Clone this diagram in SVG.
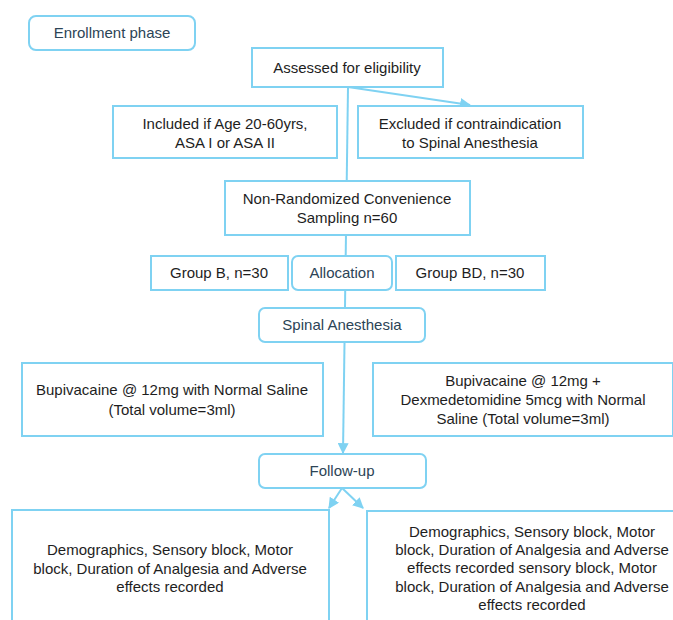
<svg xmlns="http://www.w3.org/2000/svg" width="673" height="620" viewBox="0 0 673 620">
<style>
.box{fill:#fff;stroke:#7fd2f2;stroke-width:2}
.rbox{fill:#fff;stroke:#7fd2f2;stroke-width:2}
.t{font-family:"Liberation Sans",Arial,sans-serif;font-size:15px;fill:#1e1e1e;text-anchor:middle}
.rt{font-family:"Liberation Sans",Arial,sans-serif;font-size:15px;fill:#2c4456;text-anchor:middle}
.c{stroke:#7fd2f2;stroke-width:2;fill:none;marker-end:url(#ah)}
</style>
<defs>
<marker id="ah" viewBox="0 0 10 10" refX="9" refY="5" markerWidth="5.5" markerHeight="5.5" orient="auto" markerUnits="strokeWidth">
<path d="M0,0 L10,5 L0,10 z" fill="#7fd2f2"/>
</marker>
</defs>
<g id="connectors">
<path class="c" d="M348,87 L343,453"/>
<path class="c" d="M348,87 L470,105"/>
<path class="c" d="M342,488 L329,508"/>
<path class="c" d="M342,488 L363,508"/>
</g>
<g id="enrollment">
<rect class="rbox" x="29" y="16" width="166" height="34" rx="7"/>
<text class="rt" x="112" y="38">Enrollment  phase</text>
</g>
<g id="assessed">
<rect class="box" x="252" y="48" width="191" height="39"/>
<text class="t" x="347" y="73">Assessed for eligibility</text>
</g>
<g id="included">
<rect class="box" x="113" y="106" width="224" height="52"/>
<text class="t" x="225" y="129">Included  if Age 20-60yrs,</text>
<text class="t" x="225" y="148">ASA I or ASA II</text>
</g>
<g id="excluded">
<rect class="box" x="358" y="106" width="225" height="52"/>
<text class="t" x="470" y="129">Excluded  if contraindication</text>
<text class="t" x="470" y="148">to Spinal  Anesthesia</text>
</g>
<g id="nonrandom">
<rect class="box" x="225" y="181" width="245" height="54"/>
<text class="t" x="347" y="204">Non-Randomized  Convenience</text>
<text class="t" x="347" y="223">Sampling  n=60</text>
</g>
<g id="groupB">
<rect class="box" x="151" y="256" width="137" height="34"/>
<text class="t" x="219" y="278">Group B, n=30</text>
</g>
<g id="allocation">
<rect class="rbox" x="292" y="256" width="100" height="34" rx="6"/>
<text class="rt" x="342" y="278">Allocation</text>
</g>
<g id="groupBD">
<rect class="box" x="396" y="256" width="149" height="34"/>
<text class="t" x="470" y="278">Group BD, n=30</text>
</g>
<g id="spinal">
<rect class="rbox" x="259" y="308" width="166" height="34" rx="6"/>
<text class="rt" x="342" y="330">Spinal  Anesthesia</text>
</g>
<g id="bupiLeft">
<rect class="box" x="22" y="363" width="301" height="73"/>
<text class="t" x="172" y="395">Bupivacaine @ 12mg with  Normal Saline</text>
<text class="t" x="172" y="415">(Total volume=3ml)</text>
</g>
<g id="bupiRight">
<rect class="box" x="373" y="363" width="300" height="73"/>
<text class="t" x="523" y="386">Bupivacaine  @ 12mg +</text>
<text class="t" x="523" y="405">Dexmedetomidine  5mcg with  Normal</text>
<text class="t" x="523" y="424">Saline  (Total volume=3ml)</text>
</g>
<g id="followup">
<rect class="rbox" x="259" y="454" width="167" height="34" rx="6"/>
<text class="rt" x="342" y="476">Follow-up</text>
</g>
<g id="resultLeft">
<rect class="box" x="12" y="510" width="317" height="130"/>
<text class="t" x="170" y="555">Demographics, Sensory block, Motor</text>
<text class="t" x="170" y="574">block, Duration of Analgesia  and Adverse</text>
<text class="t" x="170" y="592">effects recorded</text>
</g>
<g id="resultRight">
<rect class="box" x="367" y="511" width="330" height="130"/>
<text class="t" x="532" y="537">Demographics, Sensory block, Motor</text>
<text class="t" x="532" y="555">block, Duration of Analgesia  and Adverse</text>
<text class="t" x="532" y="573">effects recorded sensory block, Motor</text>
<text class="t" x="532" y="592">block, Duration of Analgesia  and Adverse</text>
<text class="t" x="532" y="610">effects recorded</text>
</g>
</svg>
